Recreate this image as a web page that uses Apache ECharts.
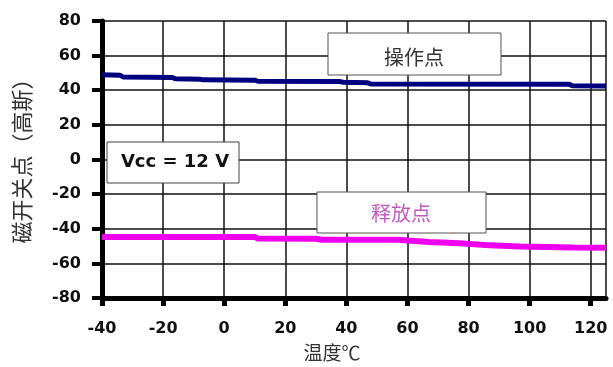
<!DOCTYPE html>
<html><head><meta charset="utf-8">
<script src="https://cdn.jsdelivr.net/npm/echarts@6/dist/echarts.min.js"></script>
<style>html,body{margin:0;padding:0;background:#fff}#c{width:613px;height:367px}</style>
</head><body><div id="c"></div>
<script>
var xTicks = [-40,-20,0,20,40,60,80,100,120];
var yTicks = [-80,-60,-40,-20,0,20,40,60,80];
var operateTemp = [-40,-34,-33,-17,-16,-8,-7,10,11,38,39,47,48,113,114,125];
var operateVal  = [48.9,48.6,47.6,47.4,46.6,46.4,46.0,45.8,45.2,45.0,44.6,44.3,43.6,43.4,42.6,42.5];
var releaseTemp = [-40,10,11,30,32,57,60,67,77,87,97,114,125];
var releaseVal  = [-44.8,-44.8,-45.6,-45.8,-46.4,-46.4,-46.8,-47.6,-48.4,-49.6,-50.3,-50.9,-51.0];
var labelOperate = '操作点', labelRelease = '释放点', labelVcc = 'Vcc = 12 V';

function pairs(xs, ys){ return xs.map(function(x,i){return [x, ys[i]];}); }
var chart = echarts.init(document.getElementById('c'));
var lbl = {fontFamily:'DejaVu Sans', fontWeight:'bold', fontSize:16, color:'#111'};
chart.setOption({
  animation:false,
  backgroundColor:'#fff',
  grid:{left:102,right:7,top:21,bottom:67,containLabel:false},
  xAxis:{type:'value',min:-40,max:125,interval:20,
    name:'温度℃',nameLocation:'middle',nameGap:45,
    nameTextStyle:{fontFamily:'Noto Sans CJK SC',fontSize:19,color:'#333',padding:[0,44,0,0]},
    axisLine:{show:true,onZero:false,lineStyle:{color:'#000',width:5}},
    axisTick:{show:true,inside:false,length:8,lineStyle:{color:'#000',width:5}},
    axisLabel:Object.assign({margin:23,showMaxLabel:false},lbl),
    splitLine:{show:true,lineStyle:{color:'#111',width:1.5}}},
  yAxis:{type:'value',min:-80,max:80,interval:20,
    name:'磁开关点（高斯）',nameLocation:'middle',nameGap:69,nameRotate:90,
    nameTextStyle:{fontFamily:'Noto Sans CJK SC',fontSize:22,color:'#333',padding:[0,0,0,8]},
    axisLine:{show:true,onZero:false,lineStyle:{color:'#000',width:5}},
    axisTick:{show:true,inside:false,length:10,lineStyle:{color:'#000',width:4}},
    axisLabel:Object.assign({margin:21},lbl),
    splitLine:{show:true,lineStyle:{color:'#111',width:1.5}}},
  series:[
    {type:'line',data:pairs(operateTemp,operateVal),showSymbol:false,lineStyle:{color:'#000080',width:5},z:5},
    {type:'line',data:pairs(releaseTemp,releaseVal),showSymbol:false,lineStyle:{color:'#ee00ee',width:6},z:5}
  ],
  graphic:[
    {type:'rect',shape:{x:328,y:33,width:173,height:42},style:{fill:'#fff',stroke:'#555',lineWidth:1},z:10},
    {type:'text',x:414,y:57,style:{text:labelOperate,fill:'#333',font:'20px "Noto Sans CJK SC"',align:'center',verticalAlign:'middle'},z:11},
    {type:'rect',shape:{x:317,y:192,width:169,height:41},style:{fill:'#fff',stroke:'#555',lineWidth:1},z:10},
    {type:'text',x:401,y:213,style:{text:labelRelease,fill:'#c05ac0',font:'20px "Noto Sans CJK SC"',align:'center',verticalAlign:'middle'},z:11},
    {type:'rect',shape:{x:107,y:142,width:132,height:41},style:{fill:'#fff',stroke:'#444',lineWidth:1},z:10},
    {type:'text',x:175,y:162,style:{text:labelVcc,fill:'#111',font:'bold 18px "DejaVu Sans"',align:'center',verticalAlign:'middle'},z:11}
  ]
});
</script></body></html>
